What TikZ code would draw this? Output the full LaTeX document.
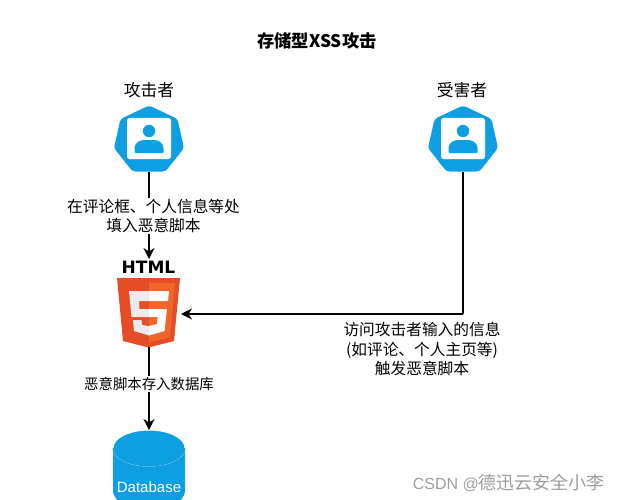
\documentclass[tikz,border=0pt]{standalone}
\usepackage{fontspec}
\setmainfont{Noto Sans CJK SC}
\newfontfamily\latinsans{Liberation Sans}
\newfontfamily\htmlfont{DejaVu Sans}
\definecolor{kblue2}{HTML}{0E9FE3}
\definecolor{orangeL}{HTML}{E44D26}
\definecolor{orangeR}{HTML}{F16529}
\usetikzlibrary{arrows.meta}
\newcommand{\usericon}[2]{%
 \begin{scope}[shift={(#1,#2)}]
  \fill[kblue2,rounded corners=3pt] (0,-40.5)--(28.5,-27)--(35,2)--(16.5,25.5)--(-16.5,25.5)--(-35,2)--(-28.5,-27)--cycle;
  \fill[white,rounded corners=2.5pt] (-22,-28) rectangle (22,13);
  \fill[kblue2] (0,-15) circle (6.2);
  \fill[kblue2,rounded corners=1pt] (-14.5,7)--(-14.5,3) .. controls (-14.5,-3) and (-9,-6) .. (-4,-6) -- (4,-6) .. controls (9,-6) and (14.5,-3) .. (14.5,3) -- (14.5,7) -- cycle;
 \end{scope}}
\tikzset{
 lbl/.style={font=\fontsize{15.7}{19.2}\selectfont,align=center,inner sep=1pt,text=black},
 lblbg/.style={lbl,fill=white},
 head/.style={font=\fontsize{16.8}{20}\selectfont,inner sep=1pt},
 conn/.style={draw=black,line width=1.1pt,-{Stealth[length=11pt,width=11pt,inset=3.5pt]}},
 plainconn/.style={draw=black,line width=1.1pt}
}
\begin{document}
\begin{tikzpicture}[x=1pt,y=-1pt]
\useasboundingbox (0,0) rectangle (618,500);
\fill[white] (0,0) rectangle (618,500);
\node[font=\fontsize{17.3}{20}\selectfont\bfseries,inner sep=0pt] (title) at (317,41) {存储型XSS攻击};
\node[head] (attacker) at (149,90) {攻击者};
\node[head] (victim) at (462,90) {受害者};
\usericon{149}{146}
\usericon{463}{146}
\coordinate (aicon) at (149,172);
\coordinate (vicon) at (463,172);
% html5
\node[font=\htmlfont\fontsize{17}{18}\selectfont\bfseries,inner sep=0pt] (htmllabel) at (148.5,267.5) {HTML};
\fill[orangeL] (117,278)--(180,278)--(174,341)--(148.5,347.5)--(123,341)--cycle;
\fill[orangeR] (149,283)--(175,283)--(170,337)--(149,342.5)--cycle;
\fill[white] (149,291)--(169,291)--(168,301)--(149,301)--cycle;
\fill[white] (149,309)--(167,309)--(164.5,331)--(149,335.5)--(149,326)--(157,324)--(157.7,317)--(149,317)--cycle;
\fill[black!8] (149,291)--(129,291)--(131.5,317)--(149,317)--(149,309)--(139.5,309)--(139,301)--(149,301)--cycle;
\fill[black!8] (133,320)--(141.5,320)--(142,325)--(149,326)--(149,335.5)--(134,331)--cycle;
\coordinate (htmltop) at (149,259);
\coordinate (htmlright) at (181,314);
\coordinate (htmlbottom) at (149,347);
\coordinate (corner) at (463,314);
% database
\fill[kblue2] (113,448) -- (113,490) arc[start angle=180,end angle=90,radius=14] -- (171,504) arc[start angle=90,end angle=0,radius=14] -- (185,448) -- cycle;
\fill[kblue2,draw=white,line width=1pt] (149,448) ellipse [x radius=36,y radius=18];
\fill[kblue2] (112.6,448) arc[start angle=180,end angle=0,x radius=36.4,y radius=18.4] -- cycle;
\node[font=\latinsans\fontsize{15}{16}\selectfont,text=white,inner sep=0pt] (db) at (149,487) {Database};
\coordinate (dbtop) at (149,430);
% connectors
\draw[conn] (aicon) -- (htmltop);
\draw[plainconn] (vicon) -- (corner);
\draw[conn] (corner) -- (htmlright);
\draw[conn] (htmlbottom) -- (dbtop);
\node[lblbg] (l1) at (153.5,216) {在评论框、个人信息等处\\填入恶意脚本};
\node[lbl] (l2) at (422,349) {访问攻击者输入的信息\\(如评论、个人主页等)\\触发恶意脚本};
\node[lblbg,font=\fontsize{14.4}{18}\selectfont] (l3) at (149,384) {恶意脚本存入数据库};
\node[font=\fontsize{18}{20}\selectfont,text=black!38,inner sep=0pt,anchor=east] (wm) at (605,483) {{\latinsans\fontsize{16}{20}\selectfont CSDN @}德迅云安全小李};
\end{tikzpicture}
\end{document}
